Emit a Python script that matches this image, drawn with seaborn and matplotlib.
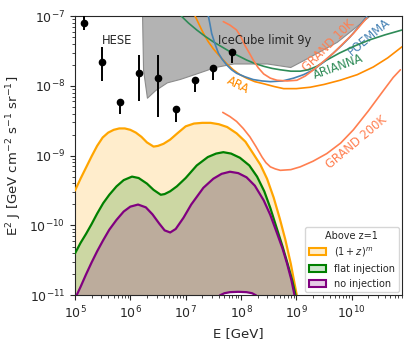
import numpy as np
import pandas as pd
import seaborn as sns
import matplotlib.pyplot as plt
from matplotlib.patches import Patch

# model curves, log10(E/GeV) vs log10(E^2 J)
orange_logE = [5.00, 5.10, 5.20, 5.30, 5.40, 5.50, 5.60, 5.70, 5.80, 5.90, 6.00, 6.10, 6.20, 6.30, 6.42,
               6.50, 6.60, 6.72, 6.85, 7.00, 7.15, 7.30, 7.45, 7.60, 7.75, 7.92, 8.08, 8.22, 8.35, 8.47,
               8.59, 8.70, 8.80, 8.90, 8.96, 9.02]
orange_logF = [-9.50, -9.33, -9.17, -9.01, -8.86, -8.74, -8.67, -8.63, -8.61, -8.61, -8.63, -8.67, -8.73,
               -8.81, -8.87, -8.86, -8.83, -8.77, -8.68, -8.58, -8.54, -8.53, -8.53, -8.55, -8.59, -8.68,
               -8.80, -8.97, -9.13, -9.33, -9.60, -9.90, -10.20, -10.55, -10.80, -11.05]

green_logE = [5.00, 5.10, 5.20, 5.30, 5.40, 5.51, 5.62, 5.75, 5.88, 6.03, 6.15, 6.30, 6.42, 6.55, 6.62,
              6.72, 6.84, 7.00, 7.20, 7.40, 7.55, 7.68, 7.82, 7.98, 8.15, 8.29, 8.42, 8.53, 8.65, 8.75,
              8.85, 8.93, 9.00]
green_logF = [-10.40, -10.25, -10.12, -9.98, -9.83, -9.68, -9.56, -9.44, -9.35, -9.30, -9.32, -9.40, -9.49,
              -9.56, -9.55, -9.51, -9.44, -9.32, -9.14, -9.02, -8.97, -8.95, -8.97, -9.03, -9.14, -9.30,
              -9.51, -9.75, -10.05, -10.30, -10.57, -10.80, -11.05]

purple_logE = [5.00, 5.10, 5.20, 5.30, 5.40, 5.51, 5.62, 5.75, 5.88, 6.00, 6.14, 6.28, 6.40, 6.52, 6.62,
               6.72, 6.82, 6.96, 7.10, 7.32, 7.50, 7.65, 7.80, 7.95, 8.10, 8.25, 8.41, 8.53, 8.65, 8.75,
               8.83, 8.91, 8.98]
purple_logF = [-11.05, -10.88, -10.70, -10.53, -10.37, -10.21, -10.06, -9.92, -9.80, -9.73, -9.70, -9.74,
               -9.84, -9.97, -10.07, -10.10, -10.05, -9.89, -9.70, -9.46, -9.33, -9.26, -9.23, -9.25,
               -9.31, -9.43, -9.64, -9.85, -10.11, -10.33, -10.54, -10.78, -11.05]

# small purple arc at the bottom near 1e8 GeV
arc_logE = [7.56, 7.62, 7.70, 7.80, 7.95, 8.10, 8.20, 8.27, 8.33]
arc_logF = [-11.08, -11.0, -10.97, -10.955, -10.95, -10.955, -10.97, -11.0, -11.08]

# IceCube 9y limit (lower edge of grey region)
ic_logE = [6.21, 6.23, 6.30, 6.45, 6.66, 6.90, 7.20, 7.53, 7.86, 8.47, 8.89, 9.13, 9.73, 10.30, 10.40]
ic_logF = [-6.9, -7.77, -8.17, -8.06, -7.95, -7.90, -7.82, -7.73, -7.68, -7.68, -7.73, -7.63, -7.37, -7.01, -6.9]

# experiment sensitivities
ara_logE = [7.17, 7.23, 7.29, 7.35, 7.41, 7.50, 7.62, 7.75, 7.86, 7.98, 8.10, 8.25, 8.41, 8.60, 8.77,
            9.00, 9.25, 9.50, 9.79, 10.10, 10.39, 10.65, 10.91]
ara_logF = [-7.00, -7.10, -7.20, -7.29, -7.37, -7.47, -7.58, -7.69, -7.77, -7.84, -7.89, -7.94, -7.97,
            -8.01, -8.04, -8.04, -8.02, -7.98, -7.92, -7.84, -7.73, -7.60, -7.44]
arianna_logE = [6.92, 7.05, 7.20, 7.35, 7.50, 7.65, 7.80, 7.95, 8.10, 8.25, 8.41, 8.56, 8.71, 8.90, 9.07,
                9.22, 9.37, 9.55, 9.78, 10.05, 10.33, 10.60, 10.91]
arianna_logF = [-7.00, -7.10, -7.20, -7.29, -7.37, -7.44, -7.51, -7.57, -7.63, -7.68, -7.72, -7.75, -7.77,
                -7.79, -7.79, -7.77, -7.72, -7.63, -7.53, -7.43, -7.34, -7.27, -7.20]
poemma_logE = [7.41, 7.44, 7.47, 7.53, 7.59, 7.66, 7.74, 7.83, 7.92, 8.07, 8.22, 8.38, 8.53, 8.75, 8.95,
               9.13, 9.31, 9.49, 9.67, 9.82, 9.97, 10.12, 10.27]
poemma_logF = [-7.00, -7.12, -7.25, -7.40, -7.53, -7.62, -7.70, -7.77, -7.82, -7.87, -7.91, -7.93, -7.94,
               -7.93, -7.89, -7.84, -7.77, -7.66, -7.53, -7.42, -7.30, -7.16, -7.01]
grand10k_logE = [7.68, 7.80, 7.92, 8.00, 8.07, 8.15, 8.22, 8.31, 8.41, 8.53, 8.65, 8.83, 9.01, 9.16, 9.31,
                 9.49, 9.67, 9.85, 10.03, 10.15, 10.27]
grand10k_logF = [-7.08, -7.13, -7.20, -7.30, -7.42, -7.53, -7.63, -7.74, -7.83, -7.89, -7.92, -7.93, -7.92,
                 -7.86, -7.77, -7.65, -7.53, -7.39, -7.25, -7.14, -7.03]
grand200k_logE = [7.67, 7.80, 7.92, 8.04, 8.16, 8.27, 8.38, 8.45, 8.53, 8.62, 8.71, 8.90, 9.07, 9.30, 9.55,
                  9.80, 10.03, 10.30, 10.58, 10.75, 10.88]
grand200k_logF = [-8.38, -8.44, -8.51, -8.61, -8.73, -8.87, -9.02, -9.10, -9.16, -9.19, -9.21, -9.20, -9.16,
                  -9.08, -8.97, -8.82, -8.63, -8.36, -8.06, -7.88, -7.77]

# HESE data points
hese_E = [1.45e5, 3.1e5, 6.6e5, 1.45e6, 3.1e6, 6.6e6, 1.45e7, 3.1e7, 6.8e7]
hese_F = [7.9e-8, 2.2e-8, 5.9e-9, 1.55e-8, 1.28e-8, 4.6e-9, 1.2e-8, 1.78e-8, 3.1e-8]
hese_lo = [6.3e-8, 1.17e-8, 3.9e-9, 6.0e-9, 3.6e-9, 3.0e-9, 8.1e-9, 1.2e-8, 2.1e-8]
hese_hi = [1.15e-7, 3.6e-8, 5.9e-9, 2.8e-8, 2.8e-8, 4.6e-9, 1.2e-8, 1.78e-8, 3.1e-8]

x_ticks = [1e5, 1e6, 1e7, 1e8, 1e9, 1e10]
y_ticks = [1e-11, 1e-10, 1e-9, 1e-8, 1e-7]

sns.set_style("ticks")
plt.rcParams['font.family'] = ['DejaVu Sans']

fig = plt.figure(figsize=(4.15, 3.46), dpi=100)
ax = fig.add_axes([0.1807, 0.1465, 0.7872, 0.8072])
ax.set_xscale("log")
ax.set_yscale("log")

def p10(a):
    return np.power(10.0, np.array(a))

# grey IceCube region
ax.fill_between(p10(ic_logE), p10(ic_logF), 1e-6, color="#b3b3b3", edgecolor="#8c8c8c", lw=0.8, zorder=1)

# shaded model bands
models = [
    (orange_logE, orange_logF, "orange"),
    (green_logE, green_logF, "green"),
    (purple_logE, purple_logF, "purple"),
]
for le, lf, c in models:
    ax.fill_between(p10(le), 1e-12, p10(lf), color=c, alpha=0.2, lw=0, zorder=2)
# white hole under the bottom arc
ax.fill_between(p10(arc_logE), 1e-12, p10(arc_logF), color="white", lw=0, zorder=2.5)
for le, lf, c in models + [(arc_logE, arc_logF, "purple")]:
    df = pd.DataFrame({"E": p10(le), "F": p10(lf)})
    sns.lineplot(data=df, x="E", y="F", ax=ax, color=c, lw=1.6, sort=False, zorder=3)

# sensitivities
curves = [
    (ara_logE, ara_logF, "darkorange"),
    (arianna_logE, arianna_logF, "seagreen"),
    (poemma_logE, poemma_logF, "steelblue"),
    (grand10k_logE, grand10k_logF, "coral"),
    (grand200k_logE, grand200k_logF, "coral"),
]
for le, lf, c in curves:
    df = pd.DataFrame({"E": p10(le), "F": p10(lf)})
    sns.lineplot(data=df, x="E", y="F", ax=ax, color=c, lw=1.2, sort=False, zorder=4)

# HESE points
hese_F_arr = np.array(hese_F)
yerr = [hese_F_arr - np.array(hese_lo), np.array(hese_hi) - hese_F_arr]
ax.errorbar(hese_E, hese_F, yerr=yerr, fmt="o", color="black", ms=4.5, lw=1.4, capsize=0, zorder=5)

fs = 8.3
ax.text(5.75e5, 4.47e-8, "HESE", fontsize=fs, ha="center", va="center")
ax.text(3.9e7, 4.47e-8, "IceCube limit 9y", fontsize=fs, ha="left", va="center", zorder=6)
ax.text(8.9e7, 1.02e-8, "ARA", fontsize=fs, color="darkorange", rotation=-27, ha="center", va="center")
ax.text(5.8e9, 1.88e-8, "ARIANNA", fontsize=fs, color="seagreen", rotation=20, ha="center", va="center")
ax.text(2.1e10, 5.0e-8, "POEMMA", fontsize=fs, color="steelblue", rotation=40, ha="center", va="center")
ax.text(3.8e9, 3.8e-8, "GRAND 10K", fontsize=fs, color="coral", rotation=45, ha="center", va="center")
ax.text(1.23e10, 1.58e-9, "GRAND 200K", fontsize=fs, color="coral", rotation=40, ha="center", va="center")

ax.set_xlim(1e5, 8e10)
ax.set_ylim(1e-11, 1e-7)
ax.set_xticks(x_ticks)
ax.set_yticks(y_ticks)
ax.set_xlabel("E [GeV]", fontsize=9.5)
ax.set_ylabel(r"E$^2$ J [GeV cm$^{-2}$ s$^{-1}$ sr$^{-1}$]", fontsize=9.5)
ax.tick_params(labelsize=9)

handles = [
    Patch(facecolor=(1, 0.647, 0, 0.2), edgecolor="orange", lw=1.5, label=r"$(1+z)^m$"),
    Patch(facecolor=(0, 0.5, 0, 0.2), edgecolor="green", lw=1.5, label="flat injection"),
    Patch(facecolor=(0.5, 0, 0.5, 0.2), edgecolor="purple", lw=1.5, label="no injection"),
]
leg = ax.legend(handles=handles, title="Above z=1", loc="lower right", fontsize=7,
                title_fontsize=7, frameon=True, handlelength=1.8, borderaxespad=0.3)
leg.set_zorder(10)

fig.savefig("out.png", dpi=100)
